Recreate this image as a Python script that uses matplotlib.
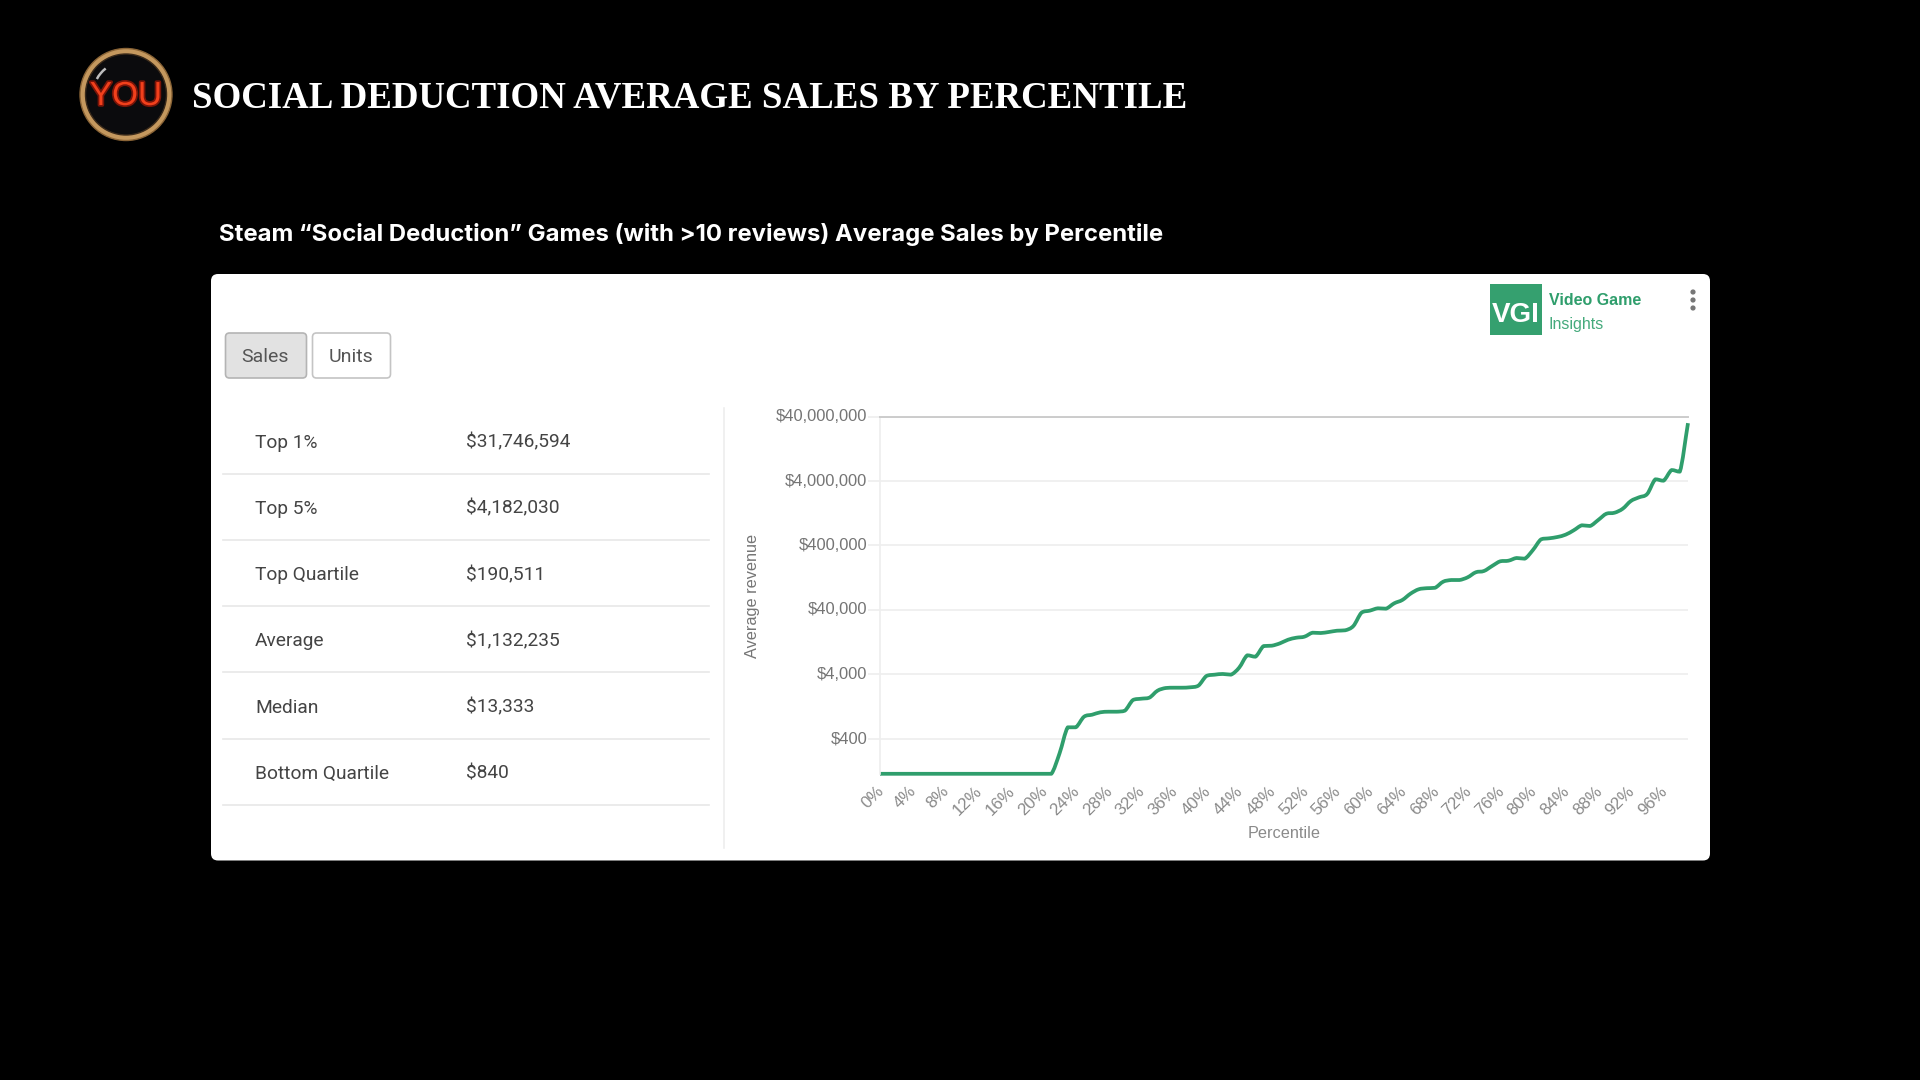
import matplotlib
matplotlib.use("Agg")
import matplotlib.pyplot as plt
import matplotlib.patheffects as pe
import numpy as np
from matplotlib.patches import Circle, FancyBboxPatch, Rectangle, Arc, PathPatch
from matplotlib.path import Path
from matplotlib.transforms import ScaledTranslation

W, H = 1920, 1080

title = "SOCIAL DEDUCTION AVERAGE SALES BY PERCENTILE"
subtitle = "Steam “Social Deduction” Games (with >10 reviews) Average Sales by Percentile"

row_names = ["Top 1%", "Top 5%", "Top Quartile", "Average", "Median", "Bottom Quartile"]
row_values = ["$31,746,594", "$4,182,030", "$190,511", "$1,132,235", "$13,333", "$840"]

percentile = list(range(100))
revenue = [
    114, 114, 114, 114, 114, 114, 114, 114, 114, 114,
    114, 114, 114, 114, 114, 114, 114, 114, 114, 114,
    114, 114, 237, 601, 601, 878, 944, 1028, 1050, 1050,
    1089, 1596, 1671, 1734, 2225, 2449, 2477, 2477, 2512, 2661,
    3767, 3945, 4046, 3945, 5058, 7889, 7499, 10990, 11120, 12100,
    13770, 14790, 15350, 17700, 17500, 18160, 19010, 19280, 22490, 36220,
    38900, 42360, 41780, 50580, 57020, 71450, 83560, 86900, 88100, 109600,
    116400, 116400, 128200, 153500, 160700, 192300, 227500, 232300, 255900, 249500,
    340400, 498900, 517600, 542000, 588800, 688700, 824100, 803500, 995400, 1247000,
    1291000, 1489000, 1963000, 2239000, 2523000, 4266000, 4055000, 5943000, 5598000, 31746594,
]

y_ticks = [400, 4000, 40000, 400000, 4000000, 40000000]
y_labels = ["$400", "$4,000", "$40,000", "$400,000", "$4,000,000", "$40,000,000"]
x_ticks = list(range(0, 100, 4))
x_labels = [f"{p}%" for p in x_ticks]

GREEN = "#2f9e6c"


def smooth_path(xs, ys):
    # bezier through the points, like the smoothed line of the original, no overshoot
    xs = np.asarray(xs, float)
    ly = np.log10(ys)
    grad = np.gradient(ly)
    verts = [(xs[0], ly[0])]
    codes = [Path.MOVETO]
    for i in range(len(xs) - 1):
        lo, hi = min(ly[i], ly[i + 1]), max(ly[i], ly[i + 1])
        c1 = np.clip(ly[i] + grad[i] / 3, lo, hi)
        c2 = np.clip(ly[i + 1] - grad[i + 1] / 3, lo, hi)
        verts += [(xs[i] + 1 / 3, c1), (xs[i] + 2 / 3, c2), (xs[i + 1], ly[i + 1])]
        codes += [Path.CURVE4] * 3
    verts = np.array(verts)
    verts[:, 1] = 10 ** verts[:, 1]
    return Path(verts, codes)


fig = plt.figure(figsize=(W / 100, H / 100), dpi=100, facecolor="black")

# page layer, works in pixels
bg = fig.add_axes([0, 0, 1, 1])
bg.set_xlim(0, W)
bg.set_ylim(H, 0)
bg.axis("off")

# logo
bg.add_patch(Circle((126, 94.5), 46, fc="#c4985e", ec="#8a6436", lw=1))
bg.add_patch(Circle((126, 94.5), 40.5, fc="#0b0b0d", ec="#3a2a1a", lw=1))
bg.add_patch(Arc((126, 94.5), 66, 66, angle=0, theta1=208, theta2=232, color="#bdbdbd", lw=1.8))
bg.text(126, 105, "YOU", family="Liberation Sans", fontsize=24, color="#f2401c", ha="center", va="baseline",
        path_effects=[pe.withStroke(linewidth=2.5, foreground="#7a1408")])

bg.text(192, 108, title, family="Liberation Serif", weight="bold", fontsize=26.6, color="white",
        ha="left", va="baseline")
bg.text(219, 241.5, subtitle, family="Inter", weight="bold", fontsize=17.2, color="white",
        ha="left", va="baseline")

# white card
bg.add_patch(FancyBboxPatch((211, 274), 1499, 586.5, boxstyle="round,pad=0,rounding_size=7",
                            fc="white", ec="none"))

# toggle buttons
bg.add_patch(FancyBboxPatch((225.5, 333), 81, 45, boxstyle="round,pad=0,rounding_size=4",
                            fc="#e2e2e2", ec="#b4b4b4", lw=1.2))
bg.add_patch(FancyBboxPatch((312.5, 333), 78, 45, boxstyle="round,pad=0,rounding_size=4",
                            fc="white", ec="#c4c4c4", lw=1.2))
bg.text(265.5, 362.5, "Sales", family="Roboto", fontsize=14, color="#555555", ha="center", va="baseline")
bg.text(351, 362.5, "Units", family="Roboto", fontsize=14, color="#555555", ha="center", va="baseline")

# stats table
for i, (name, value) in enumerate(zip(row_names, row_values)):
    row_y = 441 + i * 66.3
    bg.text(255, row_y + 6.5, name, family="Roboto", fontsize=13.8, color="#444444", ha="left", va="baseline")
    bg.text(466, row_y + 6.5, value, family="Roboto", fontsize=13.8, color="#444444", ha="left", va="baseline")
    bg.plot([223, 709], [row_y + 32.5, row_y + 32.5], color="#e8e8e8", lw=1.2)
bg.plot([724, 724], [408, 848], color="#eeeeee", lw=1.2)

# VGI badge and menu dots
bg.add_patch(Rectangle((1490, 284), 52, 51, fc="#35a06f", ec="none"))
bg.text(1516, 322, "VGI", family="Liberation Sans", weight="bold", fontsize=20, color="white",
        ha="center", va="baseline")
bg.text(1549, 305, "Video Game", family="Liberation Sans", weight="bold", fontsize=11.5, color=GREEN,
        ha="left", va="baseline")
bg.text(1549, 328.5, "Insights", family="Liberation Sans", fontsize=11.5, color="#45aa7c",
        ha="left", va="baseline")
for dot_y in [292, 300, 308]:
    bg.add_patch(Circle((1693, dot_y), 2.6, fc="#777777", ec="none"))

# line chart
left, right, top, bottom = 880, 1688, 416.7, 773.7
ax = fig.add_axes([left / W, 1 - bottom / H, (right - left) / W, (bottom - top) / H])
ax.patch.set_alpha(0)
ax.set_yscale("log")
ax.set_xlim(0, 99)
ax.set_ylim(114.4, 40000000)

ax.set_yticks(y_ticks)
ax.set_yticklabels(y_labels, family="Liberation Sans", fontsize=11.9, color="#757575")
ax.set_xticks(x_ticks)
ax.set_xticklabels(x_labels, family="Liberation Sans", fontsize=12.2, color="#8a8a8a",
                   rotation=45, ha="right", va="center", rotation_mode="anchor")
ax.tick_params(axis="x", length=0, pad=11)
ax.tick_params(axis="y", length=9, width=1.2, color="#eeeeee", pad=0)
ax.minorticks_off()

# small nudges to sit the tick labels where the original has them
for lab in ax.get_xticklabels():
    lab.set_transform(lab.get_transform() + ScaledTranslation(1.5 / 100, 0, fig.dpi_scale_trans))
for lab in ax.get_yticklabels():
    lab.set_transform(lab.get_transform() + ScaledTranslation(0, 1.5 / 100, fig.dpi_scale_trans))

ax.grid(axis="y", color="#eeeeee", lw=1.2)
ax.set_axisbelow(True)
for side in ["right", "bottom"]:
    ax.spines[side].set_visible(False)
ax.spines["left"].set_color("#eeeeee")
ax.spines["left"].set_linewidth(1.2)
ax.spines["top"].set_color("#cccccc")
ax.spines["top"].set_linewidth(1.4)

ax.add_patch(PathPatch(smooth_path(percentile, revenue), fc="none", ec=GREEN, lw=2.7,
                       joinstyle="round", capstyle="butt", clip_on=False))

bg.text(1284, 834, "Percentile", family="Liberation Sans", fontsize=11.7, color="#8a8a8a",
        ha="center", va="center")
bg.text(753, 596, "Average revenue", family="Liberation Sans", fontsize=11.7, color="#757575",
        rotation=90, ha="center", va="center")

fig.savefig("out.png", dpi=100, facecolor="black")
